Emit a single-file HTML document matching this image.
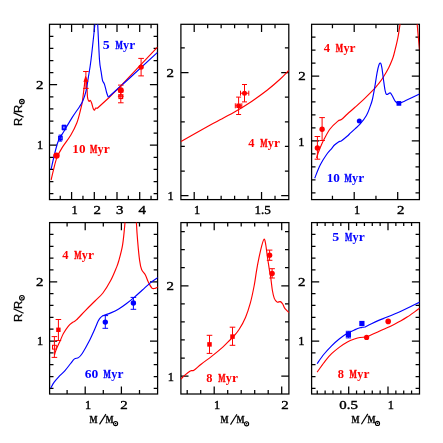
<!DOCTYPE html>
<html><head><meta charset="utf-8"><title>R vs M</title>
<style>
html,body{margin:0;padding:0;background:#fff;}
body{width:443px;height:443px;overflow:hidden;font-family:"Liberation Serif",serif;}
svg{display:block;}
</style></head><body>
<svg width="443" height="443" viewBox="0 0 443 443">
<rect width="443" height="443" fill="#fff"/>
<defs>
<clipPath id="c1"><rect x="49.5" y="24.3" width="108" height="175.3"/></clipPath>
<clipPath id="c2"><rect x="180.9" y="24.3" width="107.9" height="175.3"/></clipPath>
<clipPath id="c3"><rect x="311.6" y="24.3" width="107.8" height="175.3"/></clipPath>
<clipPath id="c4"><rect x="49.6" y="222.6" width="108" height="171.4"/></clipPath>
<clipPath id="c5"><rect x="180.9" y="222.6" width="108" height="171.4"/></clipPath>
<clipPath id="c6"><rect x="311.6" y="222.6" width="107.9" height="171.4"/></clipPath>
</defs>
<path d="M71.6 24.3v7.6M71.6 199.6v-7.6M94.3 24.3v7.6M94.3 199.6v-7.6M117 24.3v7.6M117 199.6v-7.6M139.7 24.3v7.6M139.7 199.6v-7.6M60.25 24.3v3.9M60.25 199.6v-3.9M82.95 24.3v3.9M82.95 199.6v-3.9M105.65 24.3v3.9M105.65 199.6v-3.9M128.35 24.3v3.9M128.35 199.6v-3.9M151.05 24.3v3.9M151.05 199.6v-3.9" stroke="#000" stroke-width="1.25" fill="none"/>
<path d="M49.5 145.2h7.6M157.5 145.2h-7.6M49.5 84.7h7.6M157.5 84.7h-7.6M49.5 193.6h3.9M157.5 193.6h-3.9M49.5 181.5h3.9M157.5 181.5h-3.9M49.5 169.4h3.9M157.5 169.4h-3.9M49.5 157.3h3.9M157.5 157.3h-3.9M49.5 133.1h3.9M157.5 133.1h-3.9M49.5 121h3.9M157.5 121h-3.9M49.5 108.9h3.9M157.5 108.9h-3.9M49.5 96.8h3.9M157.5 96.8h-3.9M49.5 72.6h3.9M157.5 72.6h-3.9M49.5 60.5h3.9M157.5 60.5h-3.9M49.5 48.4h3.9M157.5 48.4h-3.9M49.5 36.3h3.9M157.5 36.3h-3.9" stroke="#000" stroke-width="1.25" fill="none"/>
<rect x="49.5" y="24.3" width="108" height="175.3" fill="none" stroke="#000" stroke-width="1.25"/>
<g clip-path="url(#c1)">
<path d="M51.1 180 C51.5 178.3 52.53 173.53 53.5 169.8 C54.47 166.07 55.43 161.33 56.9 157.6 C58.37 153.87 60 151.13 62.3 147.4 C64.6 143.67 68.28 139.27 70.7 135.2 C73.12 131.13 75.17 127.2 76.8 123 C78.43 118.8 79.6 113.42 80.5 110 C81.4 106.58 81.58 106.32 82.2 102.5 C82.82 98.68 83.63 91.43 84.2 87.1 C84.77 82.77 85.15 76.5 85.6 76.5 C86.05 76.5 86.57 83.53 86.9 87.1 C87.23 90.67 87.25 95.53 87.6 97.9 C87.95 100.27 88.55 100.88 89 101.3 C89.45 101.72 89.85 100.07 90.3 100.4 C90.75 100.73 91.2 101.9 91.7 103.3 C92.2 104.7 92.85 107.67 93.3 108.8 C93.75 109.93 94 110.22 94.4 110.1 C94.8 109.98 95.25 108.37 95.7 108.1 C96.15 107.83 96.87 108.43 97.1 108.5" fill="none" stroke="#ff0000" stroke-width="1.15" stroke-linejoin="round" stroke-linecap="butt"/>
<path d="M97.1 108.5 L108.3 98.3 L120.1 86.6 L130 76.2 L157.5 47.1" fill="none" stroke="#ff0000" stroke-width="1.15" stroke-linejoin="round" stroke-linecap="butt"/>
<path d="M51.1 169.1 C51.78 166.17 53.97 156.25 55.2 151.5 C56.43 146.75 57.03 143.98 58.5 140.6 C59.97 137.22 61.73 135.03 64 131.2 C66.27 127.37 69.52 121.68 72.1 117.6 C74.68 113.52 77.7 109.52 79.5 106.7 C81.3 103.88 81.82 103.28 82.9 100.7 C83.98 98.12 85.1 95.05 86 91.2 C86.9 87.35 87.47 82.8 88.3 77.6 C89.13 72.4 89.9 68.88 91 60 C92.1 51.12 94.1 31.97 94.9 24.3 C95.7 16.63 95.55 16.38 95.8 14 C96.05 11.62 96.2 10 96.4 10 C96.6 10 96.78 11.62 97 14 C97.22 16.38 97.28 16.63 97.7 24.3 C98.12 31.97 98.92 52.02 99.5 60 C100.08 67.98 100.7 68.82 101.2 72.2 C101.7 75.58 101.95 78.27 102.5 80.3 C103.05 82.33 103.82 82.37 104.5 84.4 C105.18 86.43 105.97 90.35 106.6 92.5 C107.23 94.65 108.02 96.5 108.3 97.3" fill="none" stroke="#0000ff" stroke-width="1.15" stroke-linejoin="round" stroke-linecap="butt"/>
<path d="M108.3 97.3 L130 77.8 L157.5 52.4" fill="none" stroke="#0000ff" stroke-width="1.15" stroke-linejoin="round" stroke-linecap="butt"/>
<circle cx="56.5" cy="155.6" r="3.2" fill="#ff0000"/>
<path d="M60.4 135.1V141.1M58.7 135.1h3.4M58.7 141.1h3.4" stroke="#0000ff" stroke-width="1" fill="none"/>
<rect x="58.8" y="136.5" width="3.2" height="3.2" fill="none" stroke="#0000ff" stroke-width="1.5"/>
<path d="M64.1 125.2V129.8M62 125.2h4.2M62 129.8h4.2" stroke="#0000ff" stroke-width="1" fill="none"/>
<rect x="62.4" y="125.8" width="3.4" height="3.4" fill="none" stroke="#0000ff" stroke-width="1.5"/>
<path d="M85.9 71.5V88.4M83.1 71.5h5.6M83.1 88.4h5.6" stroke="#ff0000" stroke-width="1" fill="none"/>
<path d="M85.9 76.48L88.5 81.68L83.3 81.68Z" fill="#ff0000"/>
<path d="M120.8 85.1V95M118 85.1h5.6M118 95h5.6" stroke="#ff0000" stroke-width="1" fill="none"/>
<path d="M120.8 92V102.8M118 92h5.6M118 102.8h5.6" stroke="#ff0000" stroke-width="1" fill="none"/>
<path d="M117.9 96.7H123.7M117.9 96.7v0M123.7 96.7v0" stroke="#ff0000" stroke-width="1" fill="none"/>
<circle cx="120.8" cy="90.2" r="3" fill="#ff0000"/>
<rect x="119" y="94.9" width="3.6" height="3.6" fill="none" stroke="#ff0000" stroke-width="1.2"/>
<path d="M141.1 58.4V75.9M138.3 58.4h5.6M138.3 75.9h5.6" stroke="#ff0000" stroke-width="1" fill="none"/>
<circle cx="141.1" cy="67.1" r="2.7" fill="#ff0000"/>
</g>
<path d="M194.2 24.3v7.6M194.2 199.6v-7.6M261.55 24.3v7.6M261.55 199.6v-7.6M207.67 24.3v3.9M207.67 199.6v-3.9M221.14 24.3v3.9M221.14 199.6v-3.9M234.61 24.3v3.9M234.61 199.6v-3.9M248.08 24.3v3.9M248.08 199.6v-3.9M275.02 24.3v3.9M275.02 199.6v-3.9" stroke="#000" stroke-width="1.25" fill="none"/>
<path d="M180.9 195.7h7.6M288.8 195.7h-7.6M180.9 72.5h7.6M288.8 72.5h-7.6M180.9 171.06h3.9M288.8 171.06h-3.9M180.9 146.42h3.9M288.8 146.42h-3.9M180.9 121.78h3.9M288.8 121.78h-3.9M180.9 97.14h3.9M288.8 97.14h-3.9M180.9 47.86h3.9M288.8 47.86h-3.9" stroke="#000" stroke-width="1.25" fill="none"/>
<rect x="180.9" y="24.3" width="107.9" height="175.3" fill="none" stroke="#000" stroke-width="1.25"/>
<g clip-path="url(#c2)">
<path d="M181 141.4 C185.8 138.72 203.3 128.9 209.8 125.3 C216.3 121.7 215.67 122.15 220 119.8 C224.33 117.45 230.53 114.27 235.8 111.2 C241.07 108.13 246.33 104.93 251.6 101.4 C256.87 97.87 262.67 93.68 267.4 90 C272.13 86.32 276.43 82.55 280 79.3 C283.57 76.05 287.33 71.97 288.8 70.5" fill="none" stroke="#ff0000" stroke-width="1.15" stroke-linejoin="round" stroke-linecap="butt"/>
<path d="M244.5 84.5V101.9M242 84.5h5M242 101.9h5M240.5 93.2H248.8M240.5 90.7v5M248.8 90.7v5" stroke="#ff0000" stroke-width="1" fill="none"/>
<circle cx="244.5" cy="93.2" r="2.5" fill="#ff0000"/>
<path d="M238.6 97.1V114.5M236.1 97.1h5M236.1 114.5h5M235.3 105.8H241.8M235.3 103.3v5M241.8 103.3v5" stroke="#ff0000" stroke-width="1" fill="none"/>
<rect x="236.35" y="103.55" width="4.5" height="4.5" fill="#ff0000"/>
</g>
<path d="M354.2 24.3v7.6M354.2 199.6v-7.6M397.7 24.3v7.6M397.7 199.6v-7.6M332.45 24.3v3.9M332.45 199.6v-3.9M375.95 24.3v3.9M375.95 199.6v-3.9" stroke="#000" stroke-width="1.25" fill="none"/>
<path d="M311.6 140.9h7.6M419.4 140.9h-7.6M311.6 76h7.6M419.4 76h-7.6M311.6 192.82h3.9M419.4 192.82h-3.9M311.6 179.84h3.9M419.4 179.84h-3.9M311.6 166.86h3.9M419.4 166.86h-3.9M311.6 153.88h3.9M419.4 153.88h-3.9M311.6 127.92h3.9M419.4 127.92h-3.9M311.6 114.94h3.9M419.4 114.94h-3.9M311.6 101.96h3.9M419.4 101.96h-3.9M311.6 88.98h3.9M419.4 88.98h-3.9M311.6 63.02h3.9M419.4 63.02h-3.9M311.6 50.04h3.9M419.4 50.04h-3.9M311.6 37.06h3.9M419.4 37.06h-3.9" stroke="#000" stroke-width="1.25" fill="none"/>
<rect x="311.6" y="24.3" width="107.8" height="175.3" fill="none" stroke="#000" stroke-width="1.25"/>
<g clip-path="url(#c3)">
<path d="M316.5 158 C316.73 157.28 317.27 155.47 317.9 153.7 C318.53 151.93 319.33 149.68 320.3 147.4 C321.27 145.12 322.08 143.07 323.7 140 C325.32 136.93 327.63 132.15 330 129 C332.37 125.85 336 122.68 337.9 121.1 C339.8 119.52 339.82 120.68 341.4 119.5 C342.98 118.32 345.13 116.03 347.4 114 C349.67 111.97 352.15 109.87 355 107.3 C357.85 104.73 361.33 101.62 364.5 98.6 C367.67 95.58 371.77 91.55 374 89.2 C376.23 86.85 376.47 86.33 377.9 84.5 C379.33 82.67 380.82 80.97 382.6 78.2 C384.38 75.43 387.02 70.93 388.6 67.9 C390.18 64.87 391.22 62.23 392.1 60 C392.98 57.77 392.97 58.05 393.9 54.5 C394.83 50.95 396.68 43.73 397.7 38.7 C398.72 33.67 399.37 28.75 400 24.3 C400.63 19.85 401.25 14.05 401.5 12" fill="none" stroke="#ff0000" stroke-width="1.15" stroke-linejoin="round" stroke-linecap="butt"/>
<path d="M416.3 12 C416.45 14.05 416.87 20.13 417.2 24.3 C417.53 28.47 417.9 32.8 418.3 37 C418.7 41.2 419.38 47.42 419.6 49.5" fill="none" stroke="#ff0000" stroke-width="1.15" stroke-linejoin="round" stroke-linecap="butt"/>
<path d="M314.7 178.2 C315.63 175.97 318.32 168.75 320.3 164.8 C322.28 160.85 324.72 157.2 326.6 154.5 C328.48 151.8 330.28 150.18 331.6 148.6 C332.92 147.02 333.35 146.12 334.5 145 C335.65 143.88 337.32 142.62 338.5 141.9 C339.68 141.18 340.17 141.63 341.6 140.7 C343.03 139.77 345.6 137.6 347.1 136.3 C348.6 135 349.28 134.15 350.6 132.9 C351.92 131.65 353.43 130.25 355 128.8 C356.57 127.35 358.1 126.42 360 124.2 C361.9 121.98 364.73 118.38 366.4 115.5 C368.07 112.62 369 109.57 370 106.9 C371 104.23 371.6 102.83 372.4 99.5 C373.2 96.17 374.02 91.38 374.8 86.9 C375.58 82.42 376.4 76.3 377.1 72.6 C377.8 68.9 378.42 66.27 379 64.7 C379.58 63.13 380.12 62.67 380.6 63.2 C381.08 63.73 381.43 65.27 381.9 67.9 C382.37 70.53 382.88 75.32 383.4 79 C383.92 82.68 384.47 87.43 385 90 C385.53 92.57 385.75 93.92 386.6 94.4 C387.45 94.88 389.18 92.72 390.1 92.9 C391.02 93.08 391.23 94.08 392.1 95.5 C392.97 96.92 394.23 100.08 395.3 101.4 C396.37 102.72 397.05 103.4 398.5 103.4 C399.95 103.4 400.48 102.98 404 101.4 C407.52 99.82 417 95.15 419.6 93.9" fill="none" stroke="#0000ff" stroke-width="1.15" stroke-linejoin="round" stroke-linecap="butt"/>
<circle cx="359.3" cy="121" r="2.5" fill="#0000ff"/>
<rect x="396.55" y="101.05" width="4.7" height="4.7" fill="#0000ff"/>
<path d="M322.1 117.6V140.5M319.3 117.6h5.6M319.3 140.5h5.6" stroke="#ff0000" stroke-width="1" fill="none"/>
<circle cx="322.1" cy="129.3" r="2.7" fill="#ff0000"/>
<path d="M317.4 136.5V159.2M314.6 136.5h5.6M314.6 159.2h5.6" stroke="#ff0000" stroke-width="1" fill="none"/>
<circle cx="317.4" cy="148" r="2.7" fill="#ff0000"/>
</g>
<path d="M85.2 222.6v7.6M85.2 394v-7.6M121.4 222.6v7.6M121.4 394v-7.6M67.1 222.6v3.9M67.1 394v-3.9M103.3 222.6v3.9M103.3 394v-3.9M139.5 222.6v3.9M139.5 394v-3.9" stroke="#000" stroke-width="1.25" fill="none"/>
<path d="M49.6 341h7.6M157.6 341h-7.6M49.6 281.8h7.6M157.6 281.8h-7.6M49.6 388.36h3.9M157.6 388.36h-3.9M49.6 376.52h3.9M157.6 376.52h-3.9M49.6 364.68h3.9M157.6 364.68h-3.9M49.6 352.84h3.9M157.6 352.84h-3.9M49.6 329.16h3.9M157.6 329.16h-3.9M49.6 317.32h3.9M157.6 317.32h-3.9M49.6 305.48h3.9M157.6 305.48h-3.9M49.6 293.64h3.9M157.6 293.64h-3.9M49.6 269.96h3.9M157.6 269.96h-3.9M49.6 258.12h3.9M157.6 258.12h-3.9M49.6 246.28h3.9M157.6 246.28h-3.9M49.6 234.44h3.9M157.6 234.44h-3.9" stroke="#000" stroke-width="1.25" fill="none"/>
<rect x="49.6" y="222.6" width="108" height="171.4" fill="none" stroke="#000" stroke-width="1.25"/>
<g clip-path="url(#c4)">
<path d="M54.5 355 C54.8 354.03 55.33 351.63 56.3 349.2 C57.27 346.77 59.12 343.02 60.3 340.4 C61.48 337.78 62.08 335.85 63.4 333.5 C64.72 331.15 66.75 328.1 68.2 326.3 C69.65 324.5 70.78 323.72 72.1 322.7 C73.42 321.68 73.85 322.27 76.1 320.2 C78.35 318.13 82.45 313.5 85.6 310.3 C88.75 307.1 92.12 303.88 95 301 C97.88 298.12 100.27 296.45 102.9 293 C105.53 289.55 108.57 284.48 110.8 280.3 C113.03 276.12 114.98 271.12 116.3 267.9 C117.62 264.68 117.65 264.85 118.7 261 C119.75 257.15 121.55 251.2 122.6 244.8 C123.65 238.4 124.43 228.73 125 222.6 C125.57 216.47 125.83 210.43 126 208" fill="none" stroke="#ff0000" stroke-width="1.15" stroke-linejoin="round" stroke-linecap="butt"/>
<path d="M136 208 C136.07 210.43 136.12 217 136.4 222.6 C136.68 228.2 137.17 235.32 137.7 241.6 C138.23 247.88 138.95 255.65 139.6 260.3 C140.25 264.95 140.63 267.05 141.6 269.5 C142.57 271.95 144.28 272.92 145.4 275 C146.52 277.08 147.22 279.82 148.3 282 C149.38 284.18 150.78 287.03 151.9 288.1 C153.02 289.17 153.98 288.58 155 288.4 C156.02 288.22 157.5 287.23 158 287" fill="none" stroke="#ff0000" stroke-width="1.15" stroke-linejoin="round" stroke-linecap="butt"/>
<path d="M50.8 388 C51.33 387.07 52.68 384.25 54 382.4 C55.32 380.55 56.87 378.87 58.7 376.9 C60.53 374.93 63.02 372.83 65 370.6 C66.98 368.37 69.02 365.45 70.6 363.5 C72.18 361.55 73.18 359.88 74.5 358.9 C75.82 357.92 77.18 358.55 78.5 357.6 C79.82 356.65 80.7 355.78 82.4 353.2 C84.1 350.62 86.6 346.22 88.7 342.1 C90.8 337.98 93.42 332.02 95 328.5 C96.58 324.98 97.28 322.82 98.2 321 C99.12 319.18 99.62 318.52 100.5 317.6 C101.38 316.68 101.78 316.28 103.5 315.5 C105.22 314.72 108.27 313.98 110.8 312.9 C113.33 311.82 116.07 310.57 118.7 309 C121.33 307.43 123.97 305.48 126.6 303.5 C129.23 301.52 131.87 299.35 134.5 297.1 C137.13 294.85 139.77 292.37 142.4 290 C145.03 287.63 147.7 285 150.3 282.9 C152.9 280.8 156.72 278.32 158 277.4" fill="none" stroke="#0000ff" stroke-width="1.15" stroke-linejoin="round" stroke-linecap="butt"/>
<path d="M58.4 319.5V340.5M55.6 319.5h5.6M55.6 340.5h5.6" stroke="#ff0000" stroke-width="1" fill="none"/>
<rect x="56.2" y="327.6" width="4.4" height="4.4" fill="#ff0000"/>
<path d="M54.4 336.6V357.4M51.6 336.6h5.6M51.6 357.4h5.6" stroke="#ff0000" stroke-width="1" fill="none"/>
<rect x="52.5" y="345.3" width="3.8" height="3.8" fill="none" stroke="#ff0000" stroke-width="1"/>
<path d="M133.4 297.4V309.3M130.6 297.4h5.6M130.6 309.3h5.6" stroke="#0000ff" stroke-width="1" fill="none"/>
<circle cx="133.4" cy="303" r="2.7" fill="#0000ff"/>
<path d="M105.3 315.6V328.3M102.5 315.6h5.6M102.5 328.3h5.6" stroke="#0000ff" stroke-width="1" fill="none"/>
<circle cx="105.3" cy="322.1" r="2.7" fill="#0000ff"/>
</g>
<path d="M214.2 222.6v7.6M214.2 394v-7.6M281.7 222.6v7.6M281.7 394v-7.6M187.2 222.6v3.9M187.2 394v-3.9M200.7 222.6v3.9M200.7 394v-3.9M227.7 222.6v3.9M227.7 394v-3.9M241.2 222.6v3.9M241.2 394v-3.9M254.7 222.6v3.9M254.7 394v-3.9M268.2 222.6v3.9M268.2 394v-3.9" stroke="#000" stroke-width="1.25" fill="none"/>
<path d="M180.9 376.1h7.6M288.9 376.1h-7.6M180.9 285.8h7.6M288.9 285.8h-7.6M180.9 358.04h3.9M288.9 358.04h-3.9M180.9 339.98h3.9M288.9 339.98h-3.9M180.9 321.92h3.9M288.9 321.92h-3.9M180.9 303.86h3.9M288.9 303.86h-3.9M180.9 267.74h3.9M288.9 267.74h-3.9M180.9 249.68h3.9M288.9 249.68h-3.9M180.9 231.62h3.9M288.9 231.62h-3.9" stroke="#000" stroke-width="1.25" fill="none"/>
<rect x="180.9" y="222.6" width="108" height="171.4" fill="none" stroke="#000" stroke-width="1.25"/>
<g clip-path="url(#c5)">
<path d="M180.9 379.2 C181.57 378.52 183.33 376.48 184.9 375.1 C186.47 373.72 188.8 371.72 190.3 370.9 C191.8 370.08 192.1 371.32 193.9 370.2 C195.7 369.08 198.1 366.55 201.1 364.2 C204.1 361.85 208.28 358.95 211.9 356.1 C215.52 353.25 219.78 349.78 222.8 347.1 C225.82 344.42 228.18 341.78 230 340 C231.82 338.22 232.17 338.18 233.7 336.4 C235.23 334.62 237.23 332.47 239.2 329.3 C241.17 326.13 243.65 321.75 245.5 317.4 C247.35 313.05 248.85 308.52 250.3 303.2 C251.75 297.88 253.15 290.98 254.2 285.5 C255.25 280.02 255.8 274.93 256.6 270.3 C257.4 265.67 258.15 261.78 259 257.7 C259.85 253.62 260.83 248.92 261.7 245.8 C262.57 242.68 263.52 239.13 264.2 239 C264.88 238.87 265.28 242.15 265.8 245 C266.32 247.85 266.73 252.15 267.3 256.1 C267.87 260.05 268.62 265.02 269.2 268.7 C269.78 272.38 270.27 274.57 270.8 278.2 C271.33 281.83 271.82 287.13 272.4 290.5 C272.98 293.87 273.52 296.47 274.3 298.4 C275.08 300.33 276.1 301.57 277.1 302.1 C278.1 302.63 279.37 301.28 280.3 301.6 C281.23 301.92 281.92 302.82 282.7 304 C283.48 305.18 283.95 307.27 285 308.7 C286.05 310.13 288.33 311.95 289 312.6" fill="none" stroke="#ff0000" stroke-width="1.15" stroke-linejoin="round" stroke-linecap="butt"/>
<path d="M209.5 335.3V353.4M206.7 335.3h5.6M206.7 353.4h5.6" stroke="#ff0000" stroke-width="1" fill="none"/>
<rect x="207.25" y="342.15" width="4.5" height="4.5" fill="#ff0000"/>
<path d="M232.5 327.2V345.3M229.7 327.2h5.6M229.7 345.3h5.6" stroke="#ff0000" stroke-width="1" fill="none"/>
<rect x="230.25" y="334.35" width="4.5" height="4.5" fill="#ff0000"/>
<path d="M269.6 250.1V260.3M266.8 250.1h5.6M266.8 260.3h5.6" stroke="#ff0000" stroke-width="1" fill="none"/>
<circle cx="269.6" cy="255.3" r="2.7" fill="#ff0000"/>
<path d="M272.1 268.7V278M269.3 268.7h5.6M269.3 278h5.6" stroke="#ff0000" stroke-width="1" fill="none"/>
<circle cx="272.1" cy="273.5" r="2.7" fill="#ff0000"/>
</g>
<path d="M348.7 222.6v7.6M348.7 394v-7.6M388 222.6v7.6M388 394v-7.6M317.26 222.6v3.4M317.26 394v-3.4M325.12 222.6v3.4M325.12 394v-3.4M332.98 222.6v3.4M332.98 394v-3.4M340.84 222.6v3.4M340.84 394v-3.4M356.56 222.6v3.4M356.56 394v-3.4M364.42 222.6v3.4M364.42 394v-3.4M372.28 222.6v3.4M372.28 394v-3.4M380.14 222.6v3.4M380.14 394v-3.4M395.86 222.6v3.4M395.86 394v-3.4M403.72 222.6v3.4M403.72 394v-3.4M411.58 222.6v3.4M411.58 394v-3.4" stroke="#000" stroke-width="1.25" fill="none"/>
<path d="M311.6 341h7.6M419.5 341h-7.6M311.6 281.8h7.6M419.5 281.8h-7.6M311.6 388.36h3.9M419.5 388.36h-3.9M311.6 376.52h3.9M419.5 376.52h-3.9M311.6 364.68h3.9M419.5 364.68h-3.9M311.6 352.84h3.9M419.5 352.84h-3.9M311.6 329.16h3.9M419.5 329.16h-3.9M311.6 317.32h3.9M419.5 317.32h-3.9M311.6 305.48h3.9M419.5 305.48h-3.9M311.6 293.64h3.9M419.5 293.64h-3.9M311.6 269.96h3.9M419.5 269.96h-3.9M311.6 258.12h3.9M419.5 258.12h-3.9M311.6 246.28h3.9M419.5 246.28h-3.9M311.6 234.44h3.9M419.5 234.44h-3.9" stroke="#000" stroke-width="1.25" fill="none"/>
<rect x="311.6" y="222.6" width="107.9" height="171.4" fill="none" stroke="#000" stroke-width="1.25"/>
<g clip-path="url(#c6)">
<path d="M317.1 363.7 C318.2 362.17 321.28 357.48 323.7 354.5 C326.12 351.52 328.97 348.43 331.6 345.8 C334.23 343.17 336.87 340.8 339.5 338.7 C342.13 336.6 344.78 334.72 347.4 333.2 C350.02 331.68 353.1 330.5 355.2 329.6 C357.3 328.7 358.78 328.18 360 327.8 C361.22 327.42 361.73 327.4 362.5 327.3 C363.27 327.2 364.25 327.22 364.6 327.2" fill="none" stroke="#0000ff" stroke-width="1.15" stroke-linejoin="round" stroke-linecap="butt"/>
<path d="M364.6 327.2 C365.75 326.62 369.15 324.83 371.5 323.7 C373.85 322.57 376.2 321.47 378.7 320.4 C381.2 319.33 383.87 318.37 386.5 317.3 C389.13 316.23 391.83 315.13 394.5 314 C397.17 312.87 399.87 311.7 402.5 310.5 C405.13 309.3 407.42 308.2 410.3 306.8 C413.18 305.4 418.22 302.88 419.8 302.1" fill="none" stroke="#0000ff" stroke-width="1.15" stroke-linejoin="round" stroke-linecap="butt"/>
<path d="M317.1 372.2 C317.42 371.75 317.63 371.4 319 369.5 C320.37 367.6 323.2 363.43 325.3 360.8 C327.4 358.17 329.23 355.98 331.6 353.7 C333.97 351.42 336.87 349.07 339.5 347.1 C342.13 345.13 344.78 343.28 347.4 341.9 C350.02 340.52 353.1 339.53 355.2 338.8 C357.3 338.07 358.62 337.77 360 337.5 C361.38 337.23 362.45 337.23 363.5 337.2 C364.55 337.17 365.83 337.28 366.3 337.3" fill="none" stroke="#ff0000" stroke-width="1.15" stroke-linejoin="round" stroke-linecap="butt"/>
<path d="M366.3 337.3 C367.33 336.8 370.43 335.27 372.5 334.3 C374.57 333.33 376.37 332.55 378.7 331.5 C381.03 330.45 383.87 329.22 386.5 328 C389.13 326.78 392.08 325.4 394.5 324.2 C396.92 323 398.9 321.98 401 320.8 C403.1 319.62 404.77 318.63 407.1 317.1 C409.43 315.57 412.88 313.1 415 311.6 C417.12 310.1 419 308.68 419.8 308.1" fill="none" stroke="#ff0000" stroke-width="1.15" stroke-linejoin="round" stroke-linecap="butt"/>
<path d="M348.4 331.3V337.9M345.8 331.3h5.2M345.8 337.9h5.2" stroke="#0000ff" stroke-width="1" fill="none"/>
<rect x="345.8" y="332" width="5.2" height="5.2" fill="#0000ff"/>
<rect x="359.3" y="320.9" width="5.2" height="5.2" fill="#0000ff"/>
<circle cx="366.6" cy="337.4" r="2.6" fill="#ff0000"/>
<circle cx="388.2" cy="321.4" r="2.8" fill="#ff0000"/>
</g>
<g opacity="0.999">
<text transform="translate(109.8 49.2) scale(1.18 1)" text-anchor="end" font-family="Liberation Serif" font-weight="bold" font-size="11.8" fill="#0000ff">5</text>
<text transform="translate(115.5 49.2) scale(0.66 1)" stroke="#0000ff" stroke-width="0.45" font-family="Liberation Serif" font-weight="bold" font-size="11.8" fill="#0000ff">M</text>
<text transform="translate(123.1 49.2) scale(1.04 1)" font-family="Liberation Serif" font-weight="bold" font-size="11.8" fill="#0000ff">y</text>
<text transform="translate(129.3 49.2) scale(1.14 1)" font-family="Liberation Serif" font-weight="bold" font-size="11.8" fill="#0000ff">r</text>
<text transform="translate(85.5 152.7) scale(1.12 1)" text-anchor="end" font-family="Liberation Serif" font-weight="bold" font-size="11.8" fill="#ff0000">10</text>
<text transform="translate(90 152.7) scale(0.66 1)" stroke="#ff0000" stroke-width="0.45" font-family="Liberation Serif" font-weight="bold" font-size="11.8" fill="#ff0000">M</text>
<text transform="translate(97.6 152.7) scale(1.04 1)" font-family="Liberation Serif" font-weight="bold" font-size="11.8" fill="#ff0000">y</text>
<text transform="translate(103.8 152.7) scale(1.14 1)" font-family="Liberation Serif" font-weight="bold" font-size="11.8" fill="#ff0000">r</text>
<text transform="translate(254.5 146.9) scale(1.06 1)" text-anchor="end" font-family="Liberation Serif" font-weight="bold" font-size="11.8" fill="#ff0000">4</text>
<text transform="translate(260.2 146.9) scale(0.66 1)" stroke="#ff0000" stroke-width="0.45" font-family="Liberation Serif" font-weight="bold" font-size="11.8" fill="#ff0000">M</text>
<text transform="translate(267.8 146.9) scale(1.04 1)" font-family="Liberation Serif" font-weight="bold" font-size="11.8" fill="#ff0000">y</text>
<text transform="translate(274 146.9) scale(1.14 1)" font-family="Liberation Serif" font-weight="bold" font-size="11.8" fill="#ff0000">r</text>
<text transform="translate(330.1 51.7) scale(1.06 1)" text-anchor="end" font-family="Liberation Serif" font-weight="bold" font-size="11.8" fill="#ff0000">4</text>
<text transform="translate(335.8 51.7) scale(0.66 1)" stroke="#ff0000" stroke-width="0.45" font-family="Liberation Serif" font-weight="bold" font-size="11.8" fill="#ff0000">M</text>
<text transform="translate(343.4 51.7) scale(1.04 1)" font-family="Liberation Serif" font-weight="bold" font-size="11.8" fill="#ff0000">y</text>
<text transform="translate(349.6 51.7) scale(1.14 1)" font-family="Liberation Serif" font-weight="bold" font-size="11.8" fill="#ff0000">r</text>
<text transform="translate(339.9 181.8) scale(1.12 1)" text-anchor="end" font-family="Liberation Serif" font-weight="bold" font-size="11.8" fill="#0000ff">10</text>
<text transform="translate(344.4 181.8) scale(0.66 1)" stroke="#0000ff" stroke-width="0.45" font-family="Liberation Serif" font-weight="bold" font-size="11.8" fill="#0000ff">M</text>
<text transform="translate(352 181.8) scale(1.04 1)" font-family="Liberation Serif" font-weight="bold" font-size="11.8" fill="#0000ff">y</text>
<text transform="translate(358.2 181.8) scale(1.14 1)" font-family="Liberation Serif" font-weight="bold" font-size="11.8" fill="#0000ff">r</text>
<text transform="translate(68.5 259) scale(1.06 1)" text-anchor="end" font-family="Liberation Serif" font-weight="bold" font-size="11.8" fill="#ff0000">4</text>
<text transform="translate(74.2 259) scale(0.66 1)" stroke="#ff0000" stroke-width="0.45" font-family="Liberation Serif" font-weight="bold" font-size="11.8" fill="#ff0000">M</text>
<text transform="translate(81.8 259) scale(1.04 1)" font-family="Liberation Serif" font-weight="bold" font-size="11.8" fill="#ff0000">y</text>
<text transform="translate(88 259) scale(1.14 1)" font-family="Liberation Serif" font-weight="bold" font-size="11.8" fill="#ff0000">r</text>
<text transform="translate(98.4 377.7) scale(1.15 1)" text-anchor="end" font-family="Liberation Serif" font-weight="bold" font-size="11.8" fill="#0000ff">60</text>
<text transform="translate(103.6 377.7) scale(0.66 1)" stroke="#0000ff" stroke-width="0.45" font-family="Liberation Serif" font-weight="bold" font-size="11.8" fill="#0000ff">M</text>
<text transform="translate(111.2 377.7) scale(1.04 1)" font-family="Liberation Serif" font-weight="bold" font-size="11.8" fill="#0000ff">y</text>
<text transform="translate(117.4 377.7) scale(1.14 1)" font-family="Liberation Serif" font-weight="bold" font-size="11.8" fill="#0000ff">r</text>
<text transform="translate(212.5 381.6) scale(1.05 1)" text-anchor="end" font-family="Liberation Serif" font-weight="bold" font-size="11.8" fill="#ff0000">8</text>
<text transform="translate(218.2 381.6) scale(0.66 1)" stroke="#ff0000" stroke-width="0.45" font-family="Liberation Serif" font-weight="bold" font-size="11.8" fill="#ff0000">M</text>
<text transform="translate(225.8 381.6) scale(1.04 1)" font-family="Liberation Serif" font-weight="bold" font-size="11.8" fill="#ff0000">y</text>
<text transform="translate(232 381.6) scale(1.14 1)" font-family="Liberation Serif" font-weight="bold" font-size="11.8" fill="#ff0000">r</text>
<text transform="translate(339.2 240.6) scale(1.18 1)" text-anchor="end" font-family="Liberation Serif" font-weight="bold" font-size="11.8" fill="#0000ff">5</text>
<text transform="translate(344.9 240.6) scale(0.66 1)" stroke="#0000ff" stroke-width="0.45" font-family="Liberation Serif" font-weight="bold" font-size="11.8" fill="#0000ff">M</text>
<text transform="translate(352.5 240.6) scale(1.04 1)" font-family="Liberation Serif" font-weight="bold" font-size="11.8" fill="#0000ff">y</text>
<text transform="translate(358.7 240.6) scale(1.14 1)" font-family="Liberation Serif" font-weight="bold" font-size="11.8" fill="#0000ff">r</text>
<text transform="translate(343.9 377.6) scale(1.05 1)" text-anchor="end" font-family="Liberation Serif" font-weight="bold" font-size="11.8" fill="#ff0000">8</text>
<text transform="translate(349.6 377.6) scale(0.66 1)" stroke="#ff0000" stroke-width="0.45" font-family="Liberation Serif" font-weight="bold" font-size="11.8" fill="#ff0000">M</text>
<text transform="translate(357.2 377.6) scale(1.04 1)" font-family="Liberation Serif" font-weight="bold" font-size="11.8" fill="#ff0000">y</text>
<text transform="translate(363.4 377.6) scale(1.14 1)" font-family="Liberation Serif" font-weight="bold" font-size="11.8" fill="#ff0000">r</text>
<text transform="translate(39.6 88.75) scale(1.2 1)" text-anchor="middle" font-family="Liberation Serif" stroke="#000" stroke-width="0.4" font-size="12.4">2</text>
<text transform="translate(40 149.45) scale(1 1)" text-anchor="middle" font-family="Liberation Serif" stroke="#000" stroke-width="0.4" font-size="12.4">1</text>
<text transform="translate(170.3 76.65) scale(1.2 1)" text-anchor="middle" font-family="Liberation Serif" stroke="#000" stroke-width="0.4" font-size="12.4">2</text>
<text transform="translate(170.7 200.25) scale(1 1)" text-anchor="middle" font-family="Liberation Serif" stroke="#000" stroke-width="0.4" font-size="12.4">1</text>
<text transform="translate(301.9 80.05) scale(1.2 1)" text-anchor="middle" font-family="Liberation Serif" stroke="#000" stroke-width="0.4" font-size="12.4">2</text>
<text transform="translate(301.3 145.65) scale(1 1)" text-anchor="middle" font-family="Liberation Serif" stroke="#000" stroke-width="0.4" font-size="12.4">1</text>
<text transform="translate(39.6 286.05) scale(1.2 1)" text-anchor="middle" font-family="Liberation Serif" stroke="#000" stroke-width="0.4" font-size="12.4">2</text>
<text transform="translate(40 345.35) scale(1 1)" text-anchor="middle" font-family="Liberation Serif" stroke="#000" stroke-width="0.4" font-size="12.4">1</text>
<text transform="translate(170.3 290.05) scale(1.2 1)" text-anchor="middle" font-family="Liberation Serif" stroke="#000" stroke-width="0.4" font-size="12.4">2</text>
<text transform="translate(170.8 380.65) scale(1 1)" text-anchor="middle" font-family="Liberation Serif" stroke="#000" stroke-width="0.4" font-size="12.4">1</text>
<text transform="translate(301.8 286.05) scale(1.2 1)" text-anchor="middle" font-family="Liberation Serif" stroke="#000" stroke-width="0.4" font-size="12.4">2</text>
<text transform="translate(301.3 345.45) scale(1 1)" text-anchor="middle" font-family="Liberation Serif" stroke="#000" stroke-width="0.4" font-size="12.4">1</text>
<text transform="translate(74.6 214.1) scale(1 1)" text-anchor="middle" font-family="Liberation Serif" stroke="#000" stroke-width="0.4" font-size="12.4">1</text>
<text transform="translate(97.2 214.1) scale(1.2 1)" text-anchor="middle" font-family="Liberation Serif" stroke="#000" stroke-width="0.4" font-size="12.4">2</text>
<text transform="translate(119.7 214.1) scale(1.2 1)" text-anchor="middle" font-family="Liberation Serif" stroke="#000" stroke-width="0.4" font-size="12.4">3</text>
<text transform="translate(142.3 214.1) scale(1.2 1)" text-anchor="middle" font-family="Liberation Serif" stroke="#000" stroke-width="0.4" font-size="12.4">4</text>
<text transform="translate(197 214.1) scale(1 1)" text-anchor="middle" font-family="Liberation Serif" stroke="#000" stroke-width="0.4" font-size="12.4">1</text>
<text transform="translate(262.6 214.1) scale(1.06 1)" text-anchor="middle" font-family="Liberation Serif" stroke="#000" stroke-width="0.4" font-size="12.4">1.5</text>
<text transform="translate(357.2 214.1) scale(1 1)" text-anchor="middle" font-family="Liberation Serif" stroke="#000" stroke-width="0.4" font-size="12.4">1</text>
<text transform="translate(400.8 214.1) scale(1.2 1)" text-anchor="middle" font-family="Liberation Serif" stroke="#000" stroke-width="0.4" font-size="12.4">2</text>
<text transform="translate(88.2 408.6) scale(1 1)" text-anchor="middle" font-family="Liberation Serif" stroke="#000" stroke-width="0.4" font-size="12.4">1</text>
<text transform="translate(124 408.6) scale(1.2 1)" text-anchor="middle" font-family="Liberation Serif" stroke="#000" stroke-width="0.4" font-size="12.4">2</text>
<text transform="translate(217.2 408.6) scale(1 1)" text-anchor="middle" font-family="Liberation Serif" stroke="#000" stroke-width="0.4" font-size="12.4">1</text>
<text transform="translate(285 408.6) scale(1.2 1)" text-anchor="middle" font-family="Liberation Serif" stroke="#000" stroke-width="0.4" font-size="12.4">2</text>
<text transform="translate(348.6 408.6) scale(1.2 1)" text-anchor="middle" font-family="Liberation Serif" stroke="#000" stroke-width="0.4" font-size="12.4">0.5</text>
<text transform="translate(390.8 408.6) scale(1 1)" text-anchor="middle" font-family="Liberation Serif" stroke="#000" stroke-width="0.4" font-size="12.4">1</text>
<text transform="translate(89.5 422.7) scale(0.78 1)" stroke="#000" stroke-width="0.25" font-family="Liberation Serif" font-weight="bold" font-size="11">M</text>
<path d="M99.5 424.4L105.9 414.1" stroke="#000" stroke-width="1.15" fill="none"/>
<text transform="translate(105.5 422.7) scale(0.78 1)" stroke="#000" stroke-width="0.25" font-family="Liberation Serif" font-weight="bold" font-size="11">M</text>
<circle cx="115.6" cy="423.6" r="2.05" fill="none" stroke="#000" stroke-width="1.1"/><circle cx="115.6" cy="423.6" r="0.8" fill="#000"/>
<text transform="translate(220.5 422.9) scale(0.78 1)" stroke="#000" stroke-width="0.25" font-family="Liberation Serif" font-weight="bold" font-size="11">M</text>
<path d="M230.5 424.6L236.9 414.3" stroke="#000" stroke-width="1.15" fill="none"/>
<text transform="translate(236.5 422.9) scale(0.78 1)" stroke="#000" stroke-width="0.25" font-family="Liberation Serif" font-weight="bold" font-size="11">M</text>
<circle cx="246.6" cy="423.8" r="2.05" fill="none" stroke="#000" stroke-width="1.1"/><circle cx="246.6" cy="423.8" r="0.8" fill="#000"/>
<text transform="translate(351.4 422.5) scale(0.78 1)" stroke="#000" stroke-width="0.25" font-family="Liberation Serif" font-weight="bold" font-size="11">M</text>
<path d="M361.4 424.2L367.8 413.9" stroke="#000" stroke-width="1.15" fill="none"/>
<text transform="translate(367.4 422.5) scale(0.78 1)" stroke="#000" stroke-width="0.25" font-family="Liberation Serif" font-weight="bold" font-size="11">M</text>
<circle cx="377.5" cy="423.4" r="2.05" fill="none" stroke="#000" stroke-width="1.1"/><circle cx="377.5" cy="423.4" r="0.8" fill="#000"/>
<g transform="translate(21.9 125) rotate(-90)">
<text x="-0.9" y="0" font-family="Liberation Sans" font-size="11.3" stroke="#000" stroke-width="0.3">R</text>
<path d="M7.9 1.7L12.4 -8.4" stroke="#000" stroke-width="1.15" fill="none"/>
<text x="12.1" y="0" font-family="Liberation Sans" font-size="11.3" stroke="#000" stroke-width="0.3">R</text>
<circle cx="23.4" cy="0" r="2.3" fill="none" stroke="#000" stroke-width="1.2"/><circle cx="23.4" cy="0" r="0.9" fill="#000"/>
</g>
<g transform="translate(21.9 321.2) rotate(-90)">
<text x="-0.9" y="0" font-family="Liberation Sans" font-size="11.3" stroke="#000" stroke-width="0.3">R</text>
<path d="M7.9 1.7L12.4 -8.4" stroke="#000" stroke-width="1.15" fill="none"/>
<text x="12.1" y="0" font-family="Liberation Sans" font-size="11.3" stroke="#000" stroke-width="0.3">R</text>
<circle cx="23.4" cy="0" r="2.3" fill="none" stroke="#000" stroke-width="1.2"/><circle cx="23.4" cy="0" r="0.9" fill="#000"/>
</g>
</g>
</svg>
</body></html>
